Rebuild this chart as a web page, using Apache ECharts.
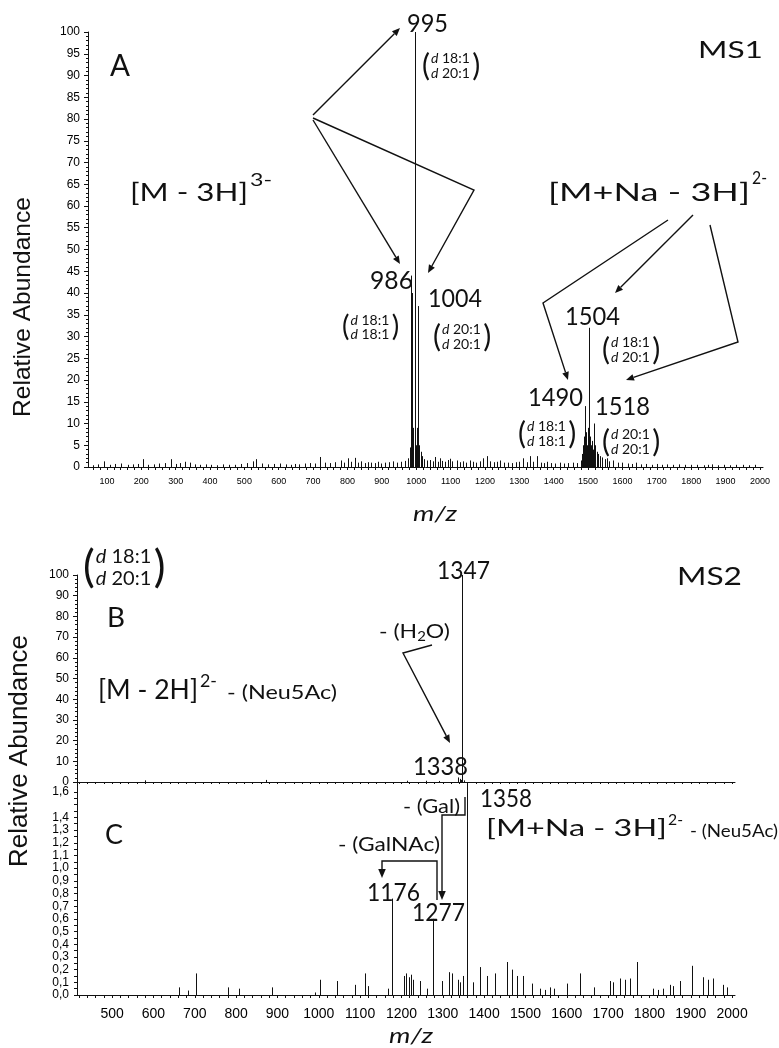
<!DOCTYPE html>
<html><head><meta charset="utf-8">
<script src="https://cdn.jsdelivr.net/npm/echarts@6/dist/echarts.min.js"></script>
<style>html,body{margin:0;padding:0;background:#fff}#c{width:779px;height:1048px}</style>
</head><body><div id="c"></div>
<script>
// ---------- DATA ----------
// Panel A (MS1): m/z and relative abundance (%)
const msA_mz = [60,75,93,110,125,141,160,175,190,205,220,238,253,270,286,300,314,326,341,355,372,388,404,420,438,455,472,490,508,525,535,550,568,585,603,620,635,646,660,675,690,705,721,735,750,765,782,790,801,810,821,830,840,850,860,869,880,890,898,910,920,932,945,957,966,976,982,984,986,988,990,992,995,997,999,1002,1004,1006,1009,1013,1018,1024,1030,1040,1048,1055,1062,1069,1076,1085,1092,1098,1105,1118,1126,1135,1146,1156,1165,1175,1185,1195,1205,1215,1225,1235,1244,1255,1268,1280,1290,1300,1312,1322,1331,1340,1350,1362,1372,1380,1392,1405,1418,1430,1442,1457,1468,1478,1483,1486,1488,1490,1492,1495,1498,1501,1504,1506,1509,1512,1515,1518,1521,1525,1530,1536,1542,1548,1554,1562,1574,1586,1600,1615,1628,1640,1655,1670,1685,1700,1715,1730,1748,1765,1782,1800,1818,1836,1850,1860,1878,1895,1912,1930,1950,1968,1985];
const msA_int = [0.4,0.6,1.3,0.5,0.7,0.8,0.5,0.6,0.7,1.8,0.5,0.6,0.8,0.9,1.8,0.7,0.9,1.2,1.0,0.6,0.5,0.6,0.5,0.4,0.6,0.5,0.5,0.7,0.9,1.3,1.8,0.8,0.6,0.7,0.8,0.6,0.5,0.7,0.6,0.8,0.9,0.8,2.3,1.0,0.9,1.1,1.5,1.0,2.0,1.2,2.1,1.0,1.3,0.9,1.1,1.0,0.9,1.2,0.8,1.0,1.1,1.3,1.0,1.2,1.4,2.0,4.5,8,44,40,9,6,100,7,5,9,37,8,5,3.5,2.5,1.8,1.5,1.6,1.3,2.3,1.2,2.0,1.4,1.2,1.6,1.9,1.3,1.5,1.1,1.3,1.0,1.5,1.2,1.0,1.3,2.0,2.5,1.3,1.1,1.2,1.5,1.0,1.0,0.9,1.1,1.2,2.0,1.1,2.5,1.2,2.5,1.0,0.9,1.2,0.9,0.8,1.0,0.8,0.9,1.0,0.9,1.5,3,5,7,14,6,8,5,9,32,7,5,6,4,10,5,3.5,3,2.5,2.2,1.8,2.0,1.3,1.5,1.0,1.0,0.8,0.7,1.0,0.6,0.7,0.5,0.7,0.5,0.6,0.5,0.6,0.5,0.5,0.5,0.4,0.5,0.6,0.4,0.5,0.4,0.5,0.5,0.4,0.5];

// Panel B (MS2, full scale)
const msB_mz = [580,872,1213,1260,1290,1336,1338,1341,1344,1347,1352];
const msB_int = [0.8,1.0,0.6,0.6,0.5,1.2,2.2,1.5,1.0,100,0.8];

// Panel C (MS2, zoomed scale; 1358 runs off the top of the axis)
const msC_mz = [662,684,703,780,806,886,991,1003,1044,1088,1112,1119,1168,1176,1205,1212,1218,1224,1229,1245,1261,1277,1298,1314,1322,1337,1342,1348,1358,1374,1390,1407,1427,1455,1467,1479,1495,1515,1535,1548,1560,1570,1600,1632,1665,1705,1713,1729,1741,1753,1770,1809,1821,1833,1850,1857,1874,1903,1930,1942,1954,1978,1988];
const msC_int = [0.06,0.035,0.17,0.06,0.05,0.06,0.02,0.12,0.11,0.08,0.17,0.07,0.05,0.76,0.15,0.17,0.14,0.16,0.12,0.11,0.05,0.6,0.11,0.18,0.17,0.12,0.10,0.15,1.7,0.10,0.22,0.15,0.17,0.26,0.20,0.15,0.15,0.09,0.05,0.04,0.06,0.05,0.09,0.17,0.06,0.11,0.10,0.13,0.12,0.13,0.26,0.05,0.04,0.05,0.08,0.07,0.11,0.23,0.14,0.12,0.13,0.08,0.06];

// Tick labels
const ticksA_x = [100,200,300,400,500,600,700,800,900,1000,1100,1200,1300,1400,1500,1600,1700,1800,1900,2000];
const ticksC_x = [500,600,700,800,900,1000,1100,1200,1300,1400,1500,1600,1700,1800,1900,2000];
const ticksC_y = [0,0.1,0.2,0.3,0.4,0.5,0.6,0.7,0.8,0.9,1.0,1.1,1.2,1.3,1.4,1.6];

// ---------- HELPERS ----------
const FONT = 'Lato', AXF = 'Liberation Sans', INK = '#111';
const mctx = document.createElement('canvas').getContext('2d');
function tw(t, size, italic, fam) { mctx.font = (italic ? 'italic ' : '') + size + 'px "' + (fam || FONT) + '"'; return mctx.measureText(t).width; }
function fit(x, yc, t, size, w, opt) {
  opt = opt || {};
  const nat = tw(t, size, opt.italic, opt.fam);
  const s = w ? w / nat : 1;
  return {type: 'text', x: x, y: yc, scaleX: s, z: 100, silent: true,
    style: {text: t, fontSize: size, fontFamily: opt.fam || FONT, fontStyle: opt.italic ? 'italic' : 'normal', fill: INK, align: 'left', verticalAlign: 'middle'}};
}
function arrow(pts, head) {
  head = head || 8;
  const n = pts.length, x1 = pts[n-2][0], y1 = pts[n-2][1], x2 = pts[n-1][0], y2 = pts[n-1][1];
  const L = Math.hypot(x2-x1, y2-y1), ux = (x2-x1)/L, uy = (y2-y1)/L;
  const bx = x2 - ux*head, by = y2 - uy*head, w = head*0.42;
  const line = pts.slice(0, n-1).concat([[bx, by]]);
  return [
    {type: 'polyline', silent: true, z: 90, shape: {points: line}, style: {stroke: INK, lineWidth: 1.4, fill: null}},
    {type: 'polygon', silent: true, z: 90, shape: {points: [[x2, y2], [bx - uy*w, by + ux*w], [bx + uy*w, by - ux*w]]}, style: {fill: INK}}
  ];
}
function dLabel(x, yc, size, gap, psize, l1, l2) {
  const pw = tw('(', psize);
  const tx = x + pw + 1;
  const lw = tw('d ' + l1, size);
  const rich = {i: {fontStyle: 'italic', fontSize: size, fontFamily: FONT, fill: INK}, n: {fontSize: size, fontFamily: FONT, fill: INK}};
  const mk = (xx, yy, t, sz, r) => ({type: 'text', x: xx, y: yy, z: 100, silent: true,
    style: {text: t, fontSize: sz, fontFamily: FONT, fill: INK, align: 'left', verticalAlign: 'middle', rich: r}});
  return [
    mk(x, yc, '(', psize),
    mk(tx, yc - gap/2, '{i|d} {n|' + l1 + '}', size, rich),
    mk(tx, yc + gap/2, '{i|d} {n|' + l2 + '}', size, rich),
    mk(tx + lw + 2, yc, ')', psize)
  ];
}
function seqFit(x, yc, pieces, w) {
  const widths = pieces.map(p => tw(p.t, p.size, p.italic));
  const tot = widths.reduce((a, b) => a + b, 0);
  const s = w / tot;
  let cx = x; const out = [];
  pieces.forEach((p, i) => {
    out.push({type: 'text', x: cx, y: yc + (p.dy || 0), scaleX: s, z: 100, silent: true,
      style: {text: p.t, fontSize: p.size, fontFamily: FONT, fontStyle: p.italic ? 'italic' : 'normal', fill: INK, align: 'left', verticalAlign: 'middle'}});
    cx += widths[i] * s;
  });
  return out;
}
function vname(xc, yc, t, span) {
  const size = 24 * span / tw(t, 24, false, AXF);
  return {type: 'text', x: xc, y: yc, rotation: Math.PI/2, z: 100, silent: true,
    style: {text: t, fontSize: size, fontFamily: AXF, fill: INK, align: 'center', verticalAlign: 'middle'}};
}
const range = (a, b, s) => { const r = []; for (let v = a; v <= b + 1e-9; v += s) r.push(+v.toFixed(4)); return r; };
const zip = (a, b) => a.map((v, i) => [v, b[i]]);

function sticks(xi, yi, data) {
  return {type: 'custom', xAxisIndex: xi, yAxisIndex: yi, data: data, clip: true, silent: true,
    renderItem: function (params, api) {
      const a = api.coord([api.value(0), 0]), b = api.coord([api.value(0), api.value(1)]);
      const x = Math.round(a[0]) + 0.5;
      return {type: 'line', shape: {x1: x, y1: a[1], x2: x, y2: b[1]}, style: {stroke: INK, lineWidth: 1}};
    }};
}

const axLine = {show: true, lineStyle: {color: INK, width: 1}};
const axLab = (size, margin) => ({color: '#000', fontFamily: AXF, fontSize: size, margin: margin});
const plain = v => String(v);

// ---------- CHART ----------
const chart = echarts.init(document.getElementById('c'), null, {renderer: 'canvas'});

const graphics = [].concat(
  // Panel A
  [fit(110, 66, 'A', 30, 20)],
  [fit(130, 193, '[M - 3H]', 25, 118), fit(250, 180, '3-', 18, 22)],
  [fit(407, 24, '995', 25, 41)],
  dLabel(422, 66, 14, 15, 30, '18:1', '20:1'),
  [fit(698, 50, 'MS1', 24, 65)],
  [fit(548, 193, '[M+Na - 3H]', 25, 202), fit(752, 179, '2-', 17, 15)],
  [fit(370, 281, '986', 25, 43)],
  dLabel(342, 327, 14, 14, 28, '18:1', '18:1'),
  [fit(428, 299, '1004', 25, 54)],
  dLabel(433, 337, 14, 15, 30, '20:1', '20:1'),
  [fit(565, 317, '1504', 25, 55)],
  dLabel(602, 350, 14, 15, 30, '18:1', '20:1'),
  [fit(528, 398, '1490', 25, 55)],
  dLabel(518, 434, 14, 15, 30, '18:1', '18:1'),
  [fit(595, 407, '1518', 25, 55)],
  dLabel(602, 442, 14, 15, 30, '20:1', '20:1'),
  arrow([[313, 115], [400, 28]]),
  arrow([[313, 118], [474, 190], [428, 273]]),
  arrow([[313, 120], [400, 264]]),
  arrow([[668, 220], [543, 303], [568, 380]]),
  arrow([[693, 215], [615, 293]]),
  arrow([[710, 225], [738, 342], [626, 380]]),
  [fit(413, 514, 'm/z', 21, 44, {italic: true})],
  [vname(23, 307, 'Relative Abundance', 220)],
  // Panel B
  dLabel(83, 568, 20, 22, 44, '18:1', '20:1'),
  [fit(107, 618, 'B', 27, 18)],
  [fit(98, 690, '[M - 2H]', 27, 100), fit(200, 682, '2-', 17, 17), fit(227, 693, '- (Neu5Ac)', 19, 110)],
  [fit(437, 571, '1347', 25, 53)],
  [fit(677, 577, 'MS2', 25, 65)],
  seqFit(379, 632, [{t: '- (H', size: 20}, {t: '2', size: 13, dy: 5}, {t: 'O)', size: 20}], 71),
  arrow([[432, 645], [403, 653], [450, 743]]),
  [fit(413, 767, '1338', 25, 55)],
  [vname(20, 751, 'Relative Abundance', 232)],
  // Panel C
  [fit(105, 835, 'C', 27, 18)],
  [fit(403, 807, '- (Gal)', 19, 57)],
  [fit(480, 799, '1358', 25, 52)],
  [fit(338, 845, '- (GalNAc)', 19, 102)],
  [fit(486, 828, '[M+Na - 3H]', 24, 181), fit(668, 820, '2-', 15, 15), fit(690, 831, '- (Neu5Ac)', 18, 88)],
  [fit(367, 893, '1176', 25, 53)],
  [fit(412, 913, '1277', 25, 53)],
  arrow([[465, 797], [465, 815], [442, 815], [442, 900]], 9),
  arrow([[437, 900], [437, 861], [382, 861], [382, 878]], 9),
  [fit(389, 1036, 'm/z', 21, 44, {italic: true})]
);

chart.setOption({
  animation: false,
  backgroundColor: '#fff',
  grid: [
    {left: 88, right: 16, top: 32, bottom: 581},
    {left: 77, right: 44, top: 575, bottom: 266},
    {left: 77, right: 44, top: 783, bottom: 53}
  ],
  xAxis: [
    {gridIndex: 0, type: 'value', min: 45, max: 2009, axisLine: axLine, splitLine: {show: false},
      axisTick: {show: true, length: 3, lineStyle: {color: INK}, customValues: range(60, 2000, 20)},
      axisLabel: Object.assign(axLab(9, 10), {customValues: ticksA_x, formatter: plain})},
    {gridIndex: 1, type: 'value', min: 415, max: 2007, axisLine: axLine, splitLine: {show: false},
      axisTick: {show: true, length: 2, lineStyle: {color: INK}, customValues: range(420, 2000, 20)},
      axisLabel: {show: false}},
    {gridIndex: 2, type: 'value', min: 415, max: 2007, axisLine: axLine, splitLine: {show: false},
      axisTick: {show: true, length: 3, lineStyle: {color: INK}, customValues: range(420, 2000, 20)},
      axisLabel: Object.assign(axLab(14, 12), {customValues: ticksC_x, formatter: plain})}
  ],
  yAxis: [
    {gridIndex: 0, type: 'value', min: 0, max: 100, interval: 5, axisLine: axLine, splitLine: {show: false},
      axisTick: {show: true, length: 4, lineStyle: {color: INK}},
      minorTick: {show: true, splitNumber: 5, length: 2, lineStyle: {color: INK}},
      axisLabel: axLab(12, 8)},
    {gridIndex: 1, type: 'value', min: 0, max: 100, interval: 10, axisLine: axLine, splitLine: {show: false},
      axisTick: {show: true, length: 4, lineStyle: {color: INK}},
      minorTick: {show: true, splitNumber: 5, length: 2, lineStyle: {color: INK}},
      axisLabel: axLab(12, 8)},
    {gridIndex: 2, type: 'value', min: 0, max: 1.671, axisLine: axLine, splitLine: {show: false},
      axisTick: {show: true, length: 3, lineStyle: {color: INK}, customValues: range(0, 1.6, 0.05)},
      axisLabel: Object.assign(axLab(12, 8), {customValues: ticksC_y, formatter: v => (+v).toFixed(1).replace('.', ',')})}
  ],
  series: [
    sticks(0, 0, zip(msA_mz, msA_int)),
    sticks(1, 1, zip(msB_mz, msB_int)),
    sticks(2, 2, zip(msC_mz, msC_int))
  ],
  graphic: graphics
});
</script>
</body></html>
